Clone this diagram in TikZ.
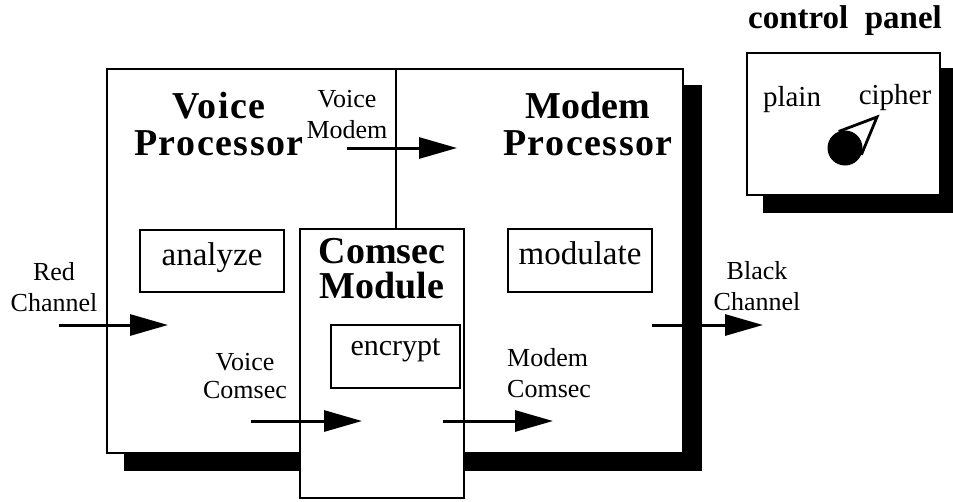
\documentclass[tikz,border=0pt]{standalone}
\usepackage{fontspec}
\setmainfont{Liberation Serif}
\newfontfamily\spacedbf[LetterSpace=4]{Liberation Serif Bold}
\usetikzlibrary{arrows.meta,calc}

\begin{document}
\begin{tikzpicture}[x=1pt,y=-1pt,
    box/.style={draw,line width=2.2pt,fill=white,inner sep=0pt},
    shadowbox/.style={fill=black,inner sep=0pt},
    wordbox/.style={box,font=\fontsize{33}{33}\selectfont,text height=22pt},
    title/.style={anchor=base,align=center,inner sep=0pt,font=\fontsize{38}{37}\selectfont\bfseries},
    lbl/.style={anchor=base,align=center,inner sep=0pt,font=\fontsize{26}{31}\selectfont},
    flow/.style={line width=3pt,-{Triangle[length=38pt,width=21pt]}}]
  \useasboundingbox (0,0) rectangle (953,501);

  \node[shadowbox,minimum width=578pt,minimum height=386pt] (vpshadow) at (413,278) {};
  \node[box,line width=2.8pt,minimum width=576pt,minimum height=384pt] (vp) at (395,261) {};
  \coordinate (split) at (396,69);

  \node[shadowbox,minimum width=193pt,minimum height=145pt] (panelshadow) at (859.5,140.5) {};
  \node[box,line width=2.8pt,minimum width=193pt,minimum height=142pt] (panel) at (843.5,124) {};
  \node[anchor=base,inner sep=0pt,font=\fontsize{33}{33}\selectfont\bfseries] (paneltitle) at (845,28) {control\ \ panel};
  \node[anchor=base,inner sep=0pt,font=\fontsize{29}{29}\selectfont] (plain) at (792,106) {plain};
  \node[anchor=base,inner sep=0pt,font=\fontsize{29}{29}\selectfont] (cipher) at (895,104) {cipher};
  \node[circle,fill=black,minimum size=35pt,inner sep=0pt] (knob) at (845,148) {};
  \coordinate (pointer) at (877,117);
  \draw[line width=2.8pt,line join=miter]
    (tangent cs:node=knob,point={(pointer)},solution=1) -- (pointer)
    -- (tangent cs:node=knob,point={(pointer)},solution=2);

  \node[title] (vptitle) at (219,155) {{\spacedbf Voice}\\{\spacedbf Processor}};
  \node[title] (mptitle) at (588,155) {Modem\\{\spacedbf Processor}};

  \node[wordbox,minimum width=144pt,minimum height=62pt,text depth=13pt] (analyze) at (212,261) {analyze};
  \node[wordbox,minimum width=144pt,minimum height=63pt,text depth=14pt] (modulate) at (580,260.5) {modulate};

  \node[box,minimum width=164pt,minimum height=269pt] (comsec) at (382,363.5) {};
  \node[title,font=\fontsize{38}{35}\selectfont\bfseries] (cmtitle) at (382,298) {Comsec\\Module};
  \node[wordbox,font=\fontsize{30}{30}\selectfont,minimum width=129pt,minimum height=63pt,text depth=24pt] (encrypt) at (395.5,356.5) {encrypt};
  \draw[line width=2.2pt] (split) -- (split |- comsec.north);

  \node[lbl] (redlbl) at (54,311) {Red\\Channel};
  \node[lbl] (vmlbl) at (347,138) {Voice\\Modem};
  \node[lbl,font=\fontsize{26}{28}\selectfont] (vclbl) at (245,398) {Voice\\Comsec};
  \node[lbl,align=left,anchor=base west] (mclbl) at (507,397) {Modem\\Comsec};
  \node[lbl] (blacklbl) at (757,310) {Black\\Channel};

  \coordinate (redin) at (59,325);
  \coordinate (redout) at (168,325);
  \coordinate (vmin) at (347,148);
  \coordinate (vmout) at (457,148);
  \coordinate (vcin) at (251,421);
  \coordinate (vcout) at (362,421);
  \coordinate (mcin) at (443,421);
  \coordinate (mcout) at (553,421);
  \coordinate (blackin) at (652,325);
  \coordinate (blackout) at (763,325);

  \draw[flow] (redin) -- (redout);
  \draw[flow] (vmin) -- (vmout);
  \draw[flow] (vcin) -- (vcout);
  \draw[flow] (mcin) -- (mcout);
  \draw[flow] (blackin) -- (blackout);
\end{tikzpicture}
\end{document}
